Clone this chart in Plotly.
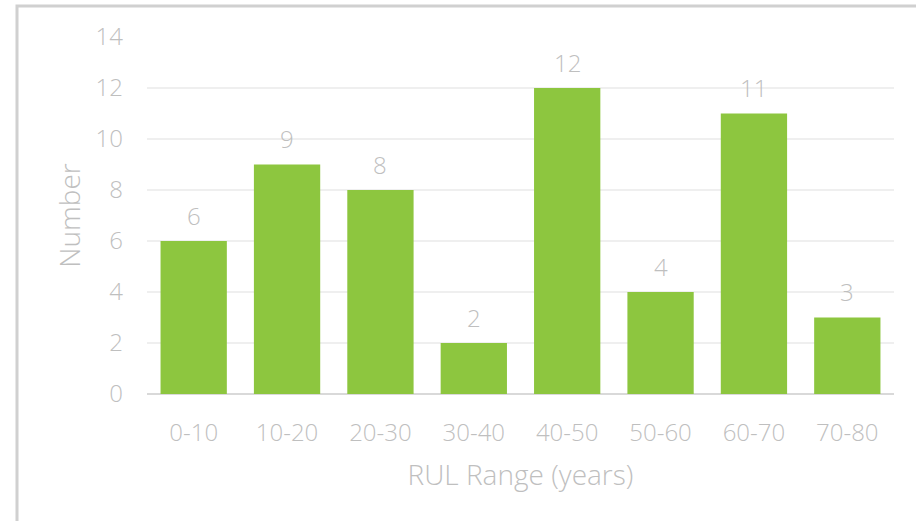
import plotly.graph_objects as go

ranges = ["0-10", "10-20", "20-30", "30-40", "40-50", "50-60", "60-70", "70-80"]
counts = [6, 9, 8, 2, 12, 4, 11, 3]
y_ticks = [0, 2, 4, 6, 8, 10, 12, 14]

W, H = 916, 521
L, R, T, B = 147, 22, 37, 127
pw, ph = W - L - R, H - T - B

text_grey = "#BFBFBF"
font_family = "Open Sans"
light = 300

fig = go.Figure(
    go.Bar(
        x=ranges,
        y=counts,
        marker=dict(color="#8DC63F", line=dict(width=0)),
        hoverinfo="x+y",
    )
)

# Value labels floating above each bar
for cat, val in zip(ranges, counts):
    fig.add_annotation(
        x=cat, y=val, text=str(val),
        showarrow=False, yanchor="middle", yshift=26,
        font=dict(family=font_family, size=24, color=text_grey, weight=light),
    )

fig.update_layout(
    width=W,
    height=H,
    margin=dict(l=L, r=R, t=T, b=B),
    paper_bgcolor="white",
    plot_bgcolor="white",
    bargap=0.29,
    showlegend=False,
    font=dict(family=font_family, color=text_grey, size=24, weight=light),
)

fig.update_xaxes(
    title=dict(text="RUL Range (years)",
               font=dict(family=font_family, size=28, color=text_grey, weight=light),
               standoff=18),
    tickfont=dict(family=font_family, size=24, color=text_grey, weight=light),
    showline=False,
    showgrid=False,
    ticks="",
    ticklabelstandoff=22,
)

fig.update_yaxes(
    range=[0, 14],
    tickvals=y_ticks,
    tickfont=dict(family=font_family, size=24, color=text_grey, weight=light),
    showgrid=True,
    gridcolor="#EFEFEF",
    gridwidth=2,
    zeroline=True,
    zerolinecolor="#D9D9D9",
    zerolinewidth=2,
    showline=False,
    ticks="",
    ticklabelstandoff=23,
    title=dict(text="Number",
               font=dict(family=font_family, size=28, color=text_grey, weight=light),
               standoff=6),
)

# Outer chart frame, running off the right and bottom of the page
fig.add_shape(
    type="rect",
    xref="paper", yref="paper",
    x0=(17 - L) / pw, x1=(W + 20 - L) / pw,
    y0=-(B + 20) / ph, y1=1 + (T - 6) / ph,
    line=dict(color="#D0D0D0", width=3),
    fillcolor="rgba(0,0,0,0)",
    layer="below",
)

fig.write_html("out.html")
